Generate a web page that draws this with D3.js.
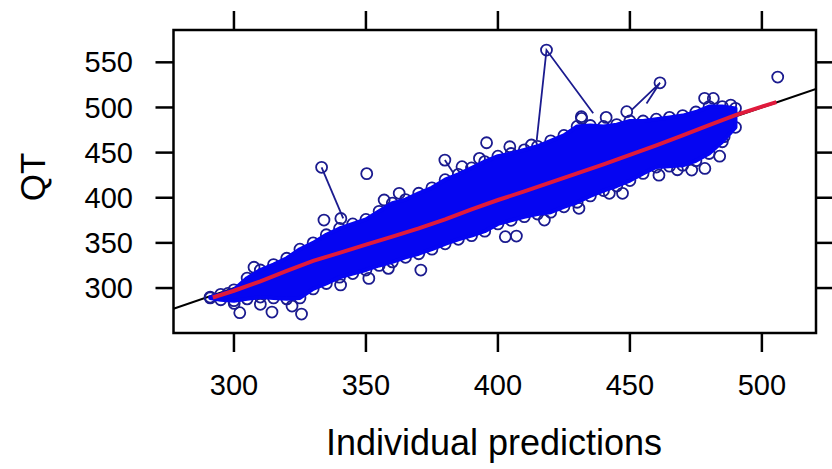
<html>
	<head>
		<meta content="text/html;charset=utf-8" http-equiv="Content-Type">
		<script src="https://d3js.org/d3.v7.min.js"></script>
		<style>
		body { margin: 0; background: #fff; }
		text { font-family: "Liberation Sans", Arial, sans-serif; fill: #000; }
		</style>
	</head>
	<body>
		<div>
			<svg id="chart"></svg>
		</div>
		<script>

	// individual predictions (x) with the outer edge of the point cloud (QT)
	var predX   = [291,295,300,305,310,315,320,325,330,335,340,345,350,355,360,365,370,375,380,385,390,395,400,405,410,415,420,425,430,435,440,445,450,455,460,465,470,475,480,485,490];
	var qtUpper = [290,293,298,311,320,326,333,343,350,359,366,371,376,385,394,398,405,411,420,426,433,440,446,449,453,457,463,469,479,480,479,481,485,485,487,489,491,495,501,501,499];
	var qtLower = [289,287,286,288,290,289,288,289,299,305,312,316,320,325,329,334,338,343,349,354,358,363,371,375,379,382,384,390,395,402,408,413,419,427,434,435,436,441,449,462,478];

	// single observations standing out from the cloud
	var looseX = [297.7,307.6,340.5,356.9,362.6,386.4,393.0,404.5,412.7,431.6,441.0,448.8,478.3,481.6,488.2,
	              300.1,302.2,310.0,314.4,322.0,325.6,340.4,351.1,358.5,370.8,402.8,407.0,417.6,430.7,442.2,447.2,461.0,468.0,473.4,478.4,484.0,485.7,
	              334.1,333.2,350.3,379.9,395.7,418.4,431.7,461.4,506.0];
	var looseQT = [294,323,377,397.5,404.9,434.4,443.6,456.5,458.4,489.8,489,495.3,510.1,510,502.7,
	               283,272.7,282,273.4,280,271.2,303.4,310.7,321.8,319.9,356.9,357.6,375.3,388.3,404.9,404.9,425,431,430.7,432.5,446,467.6,
	               375.3,433.7,426.7,441.7,460.9,563.6,487.9,527.3,533.7];

	// subjects whose consecutive observations are joined
	var subjectA = [[341.4,377.2],[333.2,433.7]];
	var subjectB = [[414.7,463.9],[418.4,563.6],[436.1,493.5]];
	var subjectC = [[450.6,497.0],[461.4,527.3],[456.3,504.5]];
	var subjectD = [[379.9,441.7],[383.0,428.0]];

	// smooth through the data
	var smoothX  = [292,300,310,320,330,340,350,360,370,380,390,400,410,420,430,440,450,460,470,480,490,500,505.5];
	var smoothQT = [289.5,297,307.5,319,330,339,348,357,366,376,387,397.5,407,417,427,437,447.5,458,469,480.5,491.5,501,506];

	var xTicks = [300,350,400,450,500];
	var yTicks = [300,350,400,450,500,550];

	page();

	function page(){
		var svg = d3.select("#chart");
		svg.attr("width", 832).attr("height", 469);

		var left = 173.5, right = 816, top = 30, bottom = 333;
		var x = d3.scaleLinear().domain([277.1, 520.5]).range([left, right]);
		var y = d3.scaleLinear().domain([250.2, 585.8]).range([bottom, top]);

		var navy = "#1b1b8f";
		var blue = "#0505f2";

		var plot = svg.append("g");
		plot.append("clipPath").attr("id", "clip")
			.append("rect")
			.attr("x", left).attr("y", top)
			.attr("width", right - left).attr("height", bottom - top);
		var inner = plot.append("g").attr("clip-path", "url(#clip)");

		// identity line
		inner.append("line")
			.attr("x1", x(277.1)).attr("y1", y(277.1))
			.attr("x2", x(520.5)).attr("y2", y(520.5))
			.attr("stroke", "black")
			.attr("stroke-width", 2);

		// subject lines
		var line = d3.line().x(function(d){ return x(d[0]); }).y(function(d){ return y(d[1]); });
		[subjectA, subjectB, subjectC, subjectD].forEach(function(s){
			inner.append("path")
				.attr("d", line(s))
				.attr("fill", "none")
				.attr("stroke", navy)
				.attr("stroke-width", 1.8);
		});

		// circles on the edge of the cloud
		var edge = [];
		predX.forEach(function(v, i){
			edge.push([v, qtUpper[i]]);
			edge.push([v, qtLower[i]]);
		});
		looseX.forEach(function(v, i){ edge.push([v, looseQT[i]]); });

		inner.selectAll("circle.pt")
			.data(edge)
			.enter().append("circle")
			.attr("class", "pt")
			.attr("cx", function(d){ return x(d[0]); })
			.attr("cy", function(d){ return y(d[1]); })
			.attr("r", 5.5)
			.attr("fill", "none")
			.attr("stroke", navy)
			.attr("stroke-width", 1.8);

		// dense body of the cloud
		var area = d3.area()
			.x(function(d, i){ return x(predX[i]); })
			.y0(function(d, i){ return y(qtLower[i]); })
			.y1(function(d, i){ return y(qtUpper[i]); })
			.curve(d3.curveLinear);
		inner.append("path")
			.attr("d", area(predX))
			.attr("fill", blue)
			.attr("stroke", blue)
			.attr("stroke-width", 4)
			.attr("stroke-linejoin", "round");

		// smooth
		inner.append("path")
			.attr("d", d3.line().x(function(d, i){ return x(smoothX[i]); }).y(function(d, i){ return y(smoothQT[i]); })(smoothX))
			.attr("fill", "none")
			.attr("stroke", "#e01a3c")
			.attr("stroke-width", 4);

		// box
		plot.append("rect")
			.attr("x", left).attr("y", top)
			.attr("width", right - left).attr("height", bottom - top)
			.attr("fill", "none")
			.attr("stroke", "black")
			.attr("stroke-width", 2.5);

		// ticks on all four sides
		xTicks.forEach(function(t){
			plot.append("line").attr("x1", x(t)).attr("x2", x(t)).attr("y1", bottom).attr("y2", bottom + 19)
				.attr("stroke", "black").attr("stroke-width", 2.5);
			plot.append("line").attr("x1", x(t)).attr("x2", x(t)).attr("y1", top).attr("y2", top - 19)
				.attr("stroke", "black").attr("stroke-width", 2.5);
			plot.append("text")
				.attr("x", x(t)).attr("y", 395)
				.attr("text-anchor", "middle")
				.style("font-size", "29px")
				.text(t);
		});
		yTicks.forEach(function(t){
			plot.append("line").attr("x1", left).attr("x2", left - 18).attr("y1", y(t)).attr("y2", y(t))
				.attr("stroke", "black").attr("stroke-width", 2.5);
			plot.append("line").attr("x1", right).attr("x2", right + 18).attr("y1", y(t)).attr("y2", y(t))
				.attr("stroke", "black").attr("stroke-width", 2.5);
			plot.append("text")
				.attr("x", 133).attr("y", y(t))
				.attr("dy", "0.35em")
				.attr("text-anchor", "end")
				.style("font-size", "29px")
				.text(t);
		});

		// axis titles
		svg.append("text")
			.attr("x", 494).attr("y", 455)
			.attr("text-anchor", "middle")
			.style("font-size", "36px")
			.text("Individual predictions");
		svg.append("text")
			.attr("transform", "translate(45,177) rotate(-90)")
			.attr("text-anchor", "middle")
			.style("font-size", "35px")
			.text("QT");
	}

		</script>
	</body>
</html>
